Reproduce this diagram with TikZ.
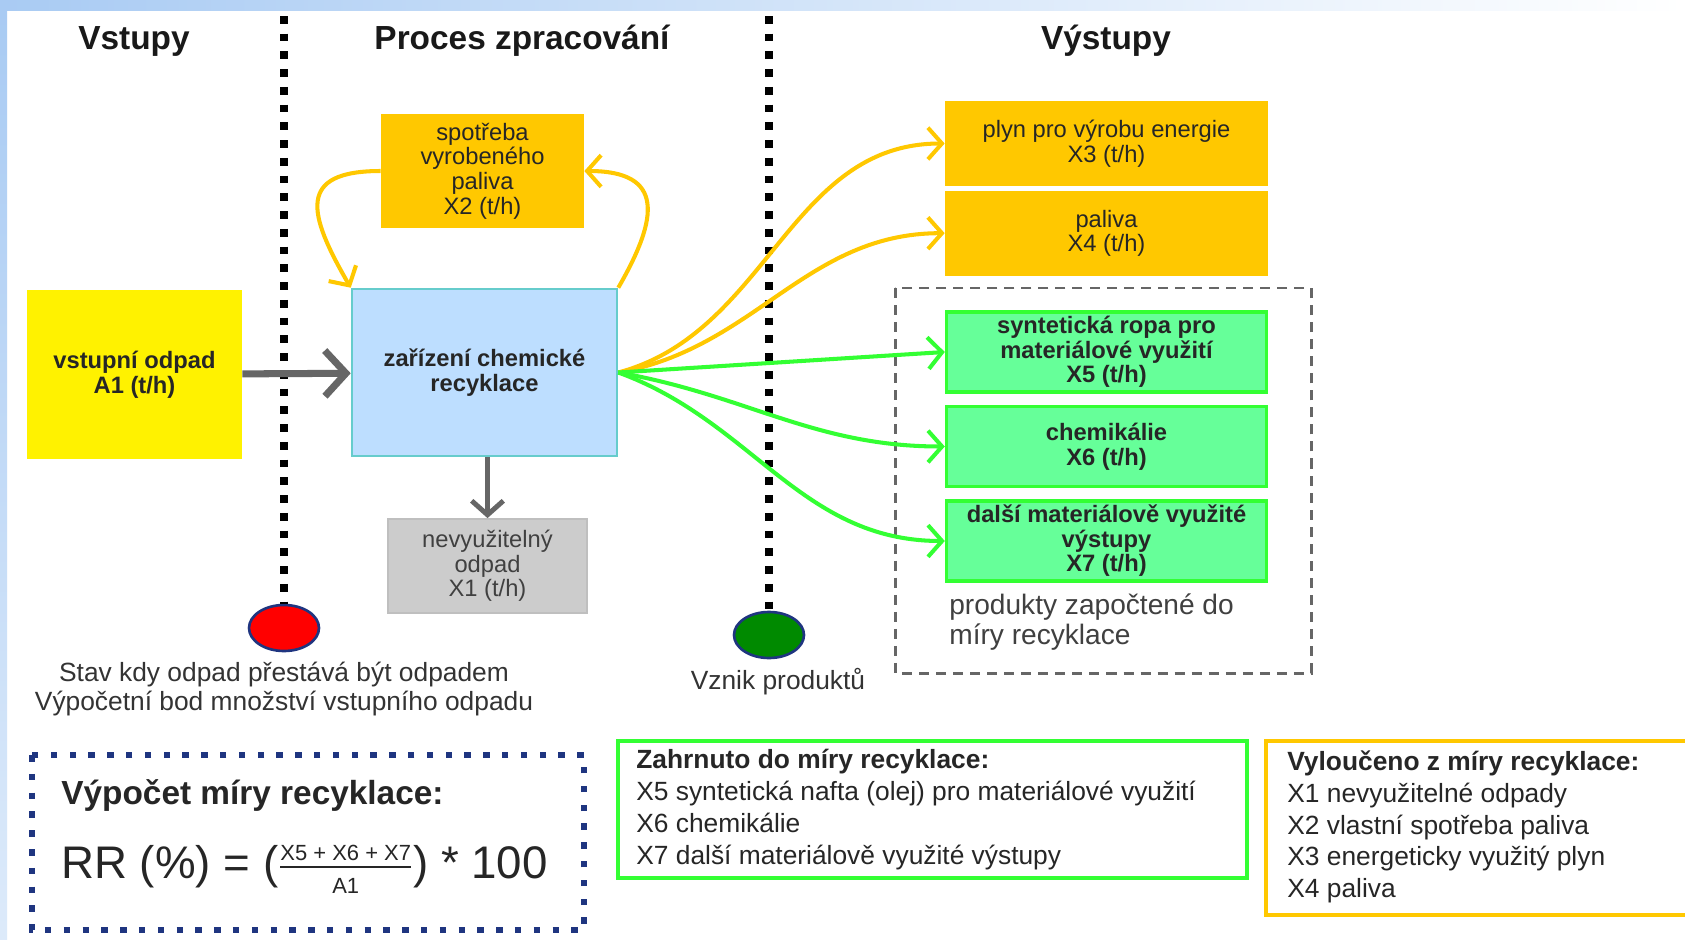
\documentclass[tikz,border=0pt]{standalone}
\usepackage{amsmath}
\usepackage{fontspec}
\setmainfont{Liberation Sans}
\usepackage{tikz}
\usetikzlibrary{positioning, arrows.meta, shapes.geometric}
\usepackage{xcolor}

\definecolor{gold}{HTML}{FFC800}
\definecolor{paleblue}{HTML}{BDDEFF}
\definecolor{tealline}{HTML}{66CCCC}
\definecolor{mint}{HTML}{66FF99}
\definecolor{limegreen}{HTML}{33FF33}
\definecolor{navy}{HTML}{1F3580}
\definecolor{darkgreen}{HTML}{008A00}
\definecolor{bandblue}{HTML}{A9CBF3}

\begin{document}
\begin{tikzpicture}[
    x=0.02cm, y=0.02cm,
    box/.style={rectangle, align=center, inner sep=2pt, font=\fontsize{13.5}{14}\selectfont, text=black!85},
    boldbox/.style={box, font=\bfseries\fontsize{13.5}{14}\selectfont},
    goldbox/.style={box, fill=gold, minimum width=6.46cm, minimum height=1.7cm},
    greenbox/.style={boldbox, fill=mint, draw=limegreen, line width=2pt, minimum width=6.4cm, minimum height=1.6cm},
    heading/.style={font=\bfseries\fontsize{19}{22}\selectfont, text=black!90},
    note/.style={align=center, font=\fontsize{15}{17}\selectfont, text=black!80},
    plain/.style={anchor=west, align=left, inner sep=0pt, text=black!85},
    divider/.style={line width=4.4pt, dash pattern=on 4.4pt off 5.7pt},
    flow/.style={line width=2.3pt, -{Straight Barb[length=8pt, width=18pt]}},
    grayarrow/.style={draw=black!60, -{Straight Barb[length=12pt, width=26pt]}},
    spot/.style={ellipse, draw=navy, line width=1.5pt, minimum width=1.4cm, minimum height=0.92cm}
]

% Page background
\useasboundingbox (0,0) rectangle (1685,-940);
\fill[white] (0,0) rectangle (1685,-940);
\shade[left color=bandblue, right color=white] (0,0) rectangle (1685,-10);
\shade[top color=bandblue, bottom color=bandblue!40] (0,-10) rectangle (7,-940);

% Column headings
\node[heading] (hin) at (134,-41) {Vstupy};
\node[heading] (hproc) at (522,-41) {Proces zpracování};
\node[heading] (hout) at (1106,-41) {Výstupy};

% Input and process
\node[boldbox, fill=yellow, minimum width=4.3cm, minimum height=3.38cm] (input) at (134.5,-374.5) {vstupní odpad\\A1 (t/h)};
\node[boldbox, fill=paleblue, draw=tealline, line width=1.5pt, minimum width=5.3cm, minimum height=3.34cm] (reactor) at (484.5,-372.5) {zařízení chemické\\recyklace};
\node[box, fill=gold, minimum width=4.06cm, minimum height=2.28cm] (selfuse) at (482.5,-171) {spotřeba\\vyrobeného\\paliva\\X2 (t/h)};
\node[box, fill=black!20, draw=black!25, line width=1pt, minimum width=3.98cm, minimum height=1.88cm, text=black!75] (residue) at (487.5,-566) {nevyužitelný\\odpad\\X1 (t/h)};

% Outputs
\node[goldbox] (gas) at (1106.5,-143.5) {plyn pro výrobu energie\\X3 (t/h)};
\node[goldbox, below=0.08cm of gas] (fuel) {paliva\\X4 (t/h)};
\node[greenbox] (oil) at (1106.5,-352) {syntetická ropa pro\\materiálové využití\\X5 (t/h)};
\node[greenbox, below=0.22cm of oil] (chem) {chemikálie\\X6 (t/h)};
\node[greenbox, below=0.22cm of chem] (other) {další materiálově využité\\výstupy\\X7 (t/h)};

\draw[black!60, line width=1.7pt, dash pattern=on 5.7pt off 4pt] (895,-288) rectangle (1311,-673);
\node[plain, font=\fontsize{16}{17}\selectfont, text=black!75] (counted) at (949,-622) {produkty započtené do\\míry recyklace};

% Measuring points
\node[spot, fill=red] (stopwaste) at (284,-628) {};
\node[spot, fill=darkgreen] (products) at (769,-635) {};
\node[note] (stoptext) at (284,-689) {Stav kdy odpad přestává být odpadem\\Výpočetní bod množství vstupního odpadu};
\node[note] (prodtext) at (778,-682) {Vznik produktů};

\draw[divider] (stopwaste.north |- 0,-16) -- (stopwaste.north);
\draw[divider] (products.north |- 0,-16) -- (products.north);

% Flows
\draw[grayarrow, line width=4pt] (input) -- (reactor);
\draw[grayarrow, line width=2.8pt, -{Straight Barb[length=8pt, width=18pt]}] (residue.north |- reactor.south) -- (residue.north);
\draw[flow, gold] (selfuse.west) to[out=180, in=120, looseness=1.8] (reactor.north west);
\draw[flow, gold] (reactor.north east) to[out=60, in=0, looseness=1.7] (selfuse.east);
\draw[flow, gold] (reactor.east) to[out=15, in=180] (gas.west);
\draw[flow, gold] (reactor.east) to[out=10, in=180] (fuel.west);
\draw[flow, limegreen] (reactor.east) -- (oil.west);
\draw[flow, limegreen] (reactor.east) to[out=-10, in=180] (chem.west);
\draw[flow, limegreen] (reactor.east) to[out=-20, in=180] (other.west);

% Recycling rate
\draw[navy, line width=3.7pt, dash pattern=on 3.7pt off 7pt] (32,-755) rectangle (584,-930);
\node[plain, font=\bfseries\fontsize{19}{22}\selectfont] (rrtitle) at (61,-795) {Výpočet míry recyklace:};
\node[plain, anchor=base west, font=\fontsize{26}{30}\selectfont] (rrformula) at (61,-878) {RR (\%) = ($\frac{\text{\fontsize{12.5}{14}\selectfont X5 + X6 + X7}}{\text{\fontsize{12.5}{14}\selectfont A1}}$) * 100};

% Legends
\draw[limegreen, line width=2pt] (618,-741) rectangle (1247,-878);
\node[plain, font=\fontsize{15}{18.1}\selectfont] (included) at (636,-809.5) {\textbf{Zahrnuto do míry recyklace:}\\X5 syntetická nafta (olej) pro materiálové využití\\X6 chemikálie\\X7 další materiálově využité výstupy};
\draw[gold, line width=2pt] (1266,-741) rectangle (1700,-915);
\node[plain, font=\fontsize{15}{18.1}\selectfont] (excluded) at (1287,-827) {\textbf{Vyloučeno z míry recyklace:}\\X1 nevyužitelné odpady\\X2 vlastní spotřeba paliva\\X3 energeticky využitý plyn\\X4 paliva};

\end{tikzpicture}
\end{document}
